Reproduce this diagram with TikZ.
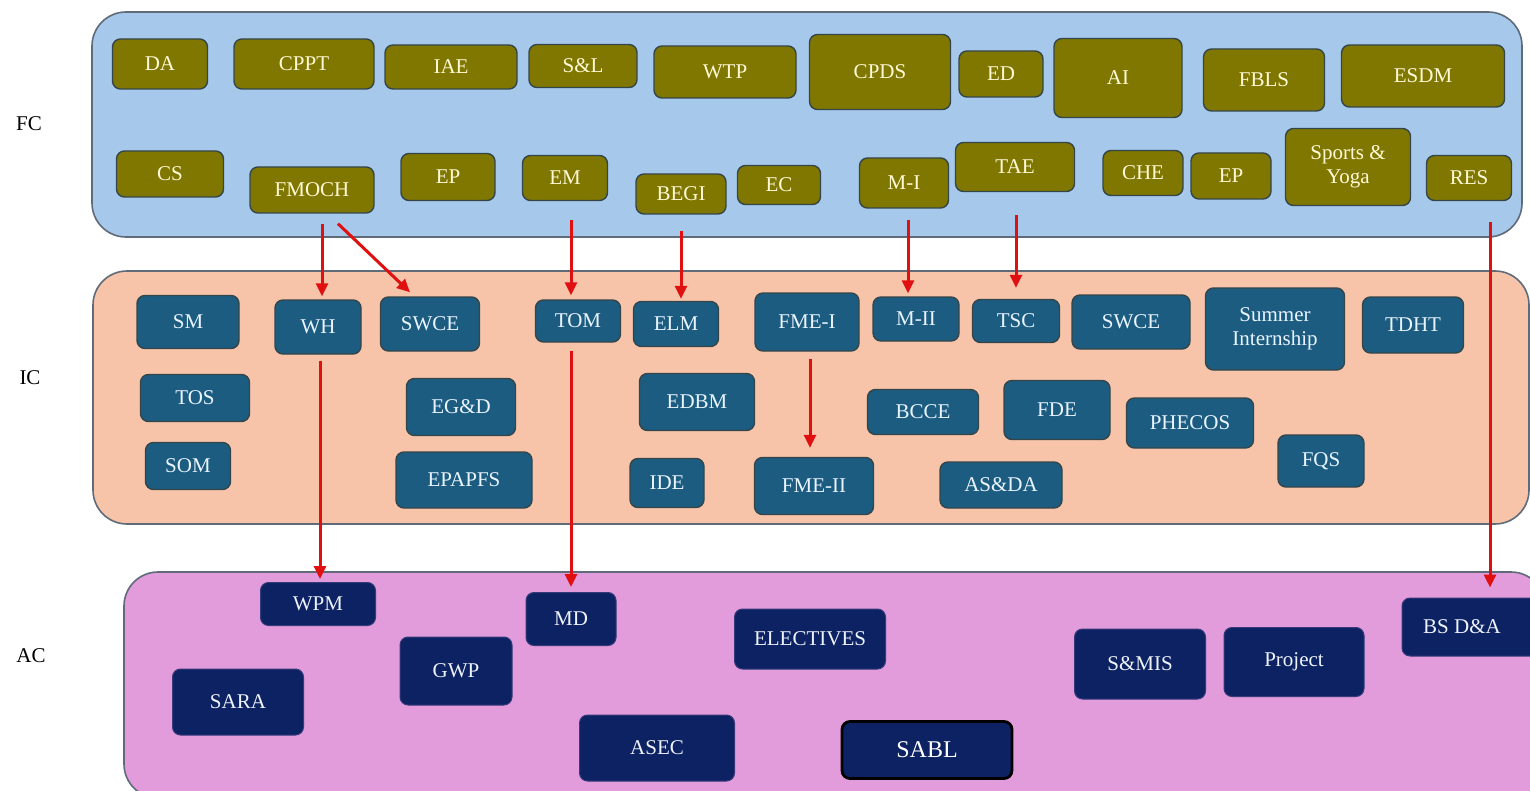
\documentclass[tikz,border=0pt]{standalone}
\usepackage{fontspec}
\setmainfont{Liberation Serif}
\usetikzlibrary{arrows.meta}

\definecolor{fcpanel}{HTML}{A6C8EB}
\definecolor{icpanel}{HTML}{F7C4AA}
\definecolor{acpanel}{HTML}{E29CDB}
\definecolor{fcfill}{HTML}{807700}
\definecolor{icfill}{HTML}{1B5C80}
\definecolor{acfill}{HTML}{0C2262}
\definecolor{fctext}{HTML}{FFF9D6}
\definecolor{ictext}{HTML}{EAF4FF}
\definecolor{actext}{HTML}{EEF2FA}
\definecolor{boxline}{HTML}{34464A}
\definecolor{panelline}{HTML}{5F6B78}
\definecolor{arrowred}{HTML}{E01010}

\tikzset{
  panel/.style={draw=panelline, line width=0.8pt, rounded corners=17pt},
  box/.style 2 args={rounded corners=4pt, minimum width={#1*0.5pt},
    minimum height={#2*0.5pt}, inner sep=1pt, align=center,
    font=\fontsize{10.5}{12}\selectfont},
  fcbox/.style 2 args={box={#1}{#2}, fill=fcfill, draw=boxline, line width=0.7pt, text=fctext},
  icbox/.style 2 args={box={#1}{#2}, fill=icfill, draw=boxline, line width=0.7pt, text=ictext},
  acbox/.style 2 args={box={#1}{#2}, fill=acfill, draw=acfill!80!acpanel, line width=0.5pt, text=actext},
  level/.style={font=\fontsize{10.5}{12}\selectfont},
  flow/.style={draw=arrowred, line width=1.5pt, -{Triangle[length=6.5pt,width=6pt]}},
}

\begin{document}
\begin{tikzpicture}[x=0.5pt,y=-0.5pt]
  \clip (0,0) rectangle (1530,791);
  \fill[white] (0,0) rectangle (1530,791);
  % panels
  \draw[panel, fill=fcpanel] (92,12) rectangle (1522,237);
  \draw[panel, fill=icpanel] (93,271) rectangle (1529,524);
  \draw[panel, fill=acpanel] (124,572) rectangle (1545,798);
  \node[level] (fc) at (29,124) {FC};
  \node[level] (ic) at (30,378) {IC};
  \node[level] (ac) at (31,656) {AC};

  % FC, top row
  \node[fcbox={95}{50}]  (da)    at (160,64)  {DA};
  \node[fcbox={140}{50}] (cppt)  at (304,64)  {CPPT};
  \node[fcbox={132}{44}] (iae)   at (451,67)  {IAE};
  \node[fcbox={108}{43}] (sl)    at (583,66)  {S\&L};
  \node[fcbox={142}{52}] (wtp)   at (725,72)  {WTP};
  \node[fcbox={141}{75}] (cpds)  at (880,72)  {CPDS};
  \node[fcbox={84}{46}]  (ed)    at (1001,74) {ED};
  \node[fcbox={128}{79}] (ai)    at (1118,78) {AI};
  \node[fcbox={121}{62}] (fbls)  at (1264,80) {FBLS};
  \node[fcbox={163}{62}] (esdm)  at (1423,76) {ESDM};
  % FC, bottom row
  \node[fcbox={107}{46}] (cs)    at (170,174) {CS};
  \node[fcbox={124}{46}] (fmoch) at (312,190) {FMOCH};
  \node[fcbox={94}{47}]  (ep)    at (448,177) {EP};
  \node[fcbox={85}{45}]  (em)    at (565,178) {EM};
  \node[fcbox={90}{40}]  (begi)  at (681,194) {BEGI};
  \node[fcbox={83}{39}]  (ec)    at (779,185) {EC};
  \node[fcbox={89}{50}]  (mi)    at (904,183) {M-I};
  \node[fcbox={119}{49}] (tae)   at (1015,167) {TAE};
  \node[fcbox={80}{45}]  (che)   at (1143,173) {CHE};
  \node[fcbox={80}{46}]  (eptwo) at (1231,176) {EP};
  \node[fcbox={125}{77}] (sports) at (1348,167) {Sports \&\\Yoga};
  \node[fcbox={85}{45}]  (res)   at (1469,178) {RES};

  % IC, first row
  \node[icbox={102}{53}] (sm)    at (188,322) {SM};
  \node[icbox={86}{54}]  (wh)    at (318,327) {WH};
  \node[icbox={99}{54}]  (swce)  at (430,324) {SWCE};
  \node[icbox={85}{42}]  (tom)   at (578,321) {TOM};
  \node[icbox={85}{45}]  (elm)   at (676,324) {ELM};
  \node[icbox={104}{58}] (fmei)  at (807,322) {FME-I};
  \node[icbox={86}{44}]  (mii)   at (916,319) {M-II};
  \node[icbox={87}{43}]  (tsc)   at (1016,321) {TSC};
  \node[icbox={118}{54}] (swcetwo) at (1131,322) {SWCE};
  \node[icbox={139}{82}] (summer) at (1275,329) {Summer\\Internship};
  \node[icbox={101}{56}] (tdht)  at (1413,325) {TDHT};
  % IC, second and third rows
  \node[icbox={109}{47}] (tos)   at (195,398) {TOS};
  \node[icbox={109}{57}] (egd)   at (461,407) {EG\&D};
  \node[icbox={115}{57}] (edbm)  at (697,402) {EDBM};
  \node[icbox={111}{45}] (bcce)  at (923,412) {BCCE};
  \node[icbox={106}{59}] (fde)   at (1057,410) {FDE};
  \node[icbox={127}{50}] (phecos) at (1190,423) {PHECOS};
  \node[icbox={86}{52}]  (fqs)   at (1321,461) {FQS};
  \node[icbox={85}{47}]  (som)   at (188,466) {SOM};
  \node[icbox={136}{56}] (epapfs) at (464,480) {EPAPFS};
  \node[icbox={74}{49}]  (ide)   at (667,483) {IDE};
  \node[icbox={119}{57}] (fmeii) at (814,486) {FME-II};
  \node[icbox={122}{46}] (asda)  at (1001,485) {AS\&DA};

  % AC
  \node[acbox={115}{43}] (wpm)   at (318,604) {WPM};
  \node[acbox={90}{53}]  (md)    at (571,619) {MD};
  \node[acbox={151}{60}] (elect) at (810,639) {ELECTIVES};
  \node[acbox={131}{70}] (smis)  at (1140,664) {S\&MIS};
  \node[acbox={140}{69}] (proj)  at (1294,662) {Project};
  \node[acbox={140}{58}] (bsda)  at (1472,627) {\hspace*{-10pt}BS D\&A};
  \node[acbox={131}{66}] (sara)  at (238,702) {SARA};
  \node[acbox={112}{68}] (gwp)   at (456,671) {GWP};
  \node[acbox={155}{66}] (asec)  at (657,748) {ASEC};
  \node[acbox={170}{57}, draw=black, line width=1.4pt, text=white,
        font=\fontsize{12}{14}\selectfont] (sabl) at (927,750) {SABL};

  % links
  \draw[flow] ([xshift=5pt,yshift=-5pt]fmoch.south) -- ([xshift=5pt,yshift=1.5pt]fmoch.south |- wh.north);
  \draw[flow] ([xshift=13pt,yshift=-5pt]fmoch.south) -- ([xshift=-10pt,yshift=2pt]swce.north);
  \draw[flow] ([xshift=3pt,yshift=-9.5pt]em.south) -- ([xshift=3pt,yshift=2pt]em.south |- tom.north);
  \draw[flow] ([yshift=-8pt]begi.south) -- ([yshift=1pt]begi.south |- elm.north);
  \draw[flow] ([xshift=2pt,yshift=-5.5pt]mi.south) -- ([xshift=2pt,yshift=1.5pt]mi.south |- mii.north);
  \draw[flow] ([xshift=0.5pt,yshift=-11.5pt]tae.south) -- ([xshift=0.5pt,yshift=5.5pt]tae.south |- tsc.north);
  \draw[flow] ([xshift=10.5pt,yshift=-10.5pt]res.south) -- ([xshift=10.5pt,yshift=5pt]res.south |- bsda.north);
  \draw[flow] ([xshift=1pt,yshift=-3pt]wh.south) -- ([xshift=1pt,yshift=1.5pt]wh.south |- wpm.north);
  \draw[flow] ([xshift=-3.5pt,yshift=-4pt]tom.south) -- ([xshift=-3.5pt,yshift=2.5pt]tom.south |- md.north);
  \draw[flow] ([xshift=1.5pt,yshift=-3.5pt]fmei.south) -- ([xshift=1.5pt,yshift=4.5pt]fmei.south |- fmeii.north);
\end{tikzpicture}
\end{document}
